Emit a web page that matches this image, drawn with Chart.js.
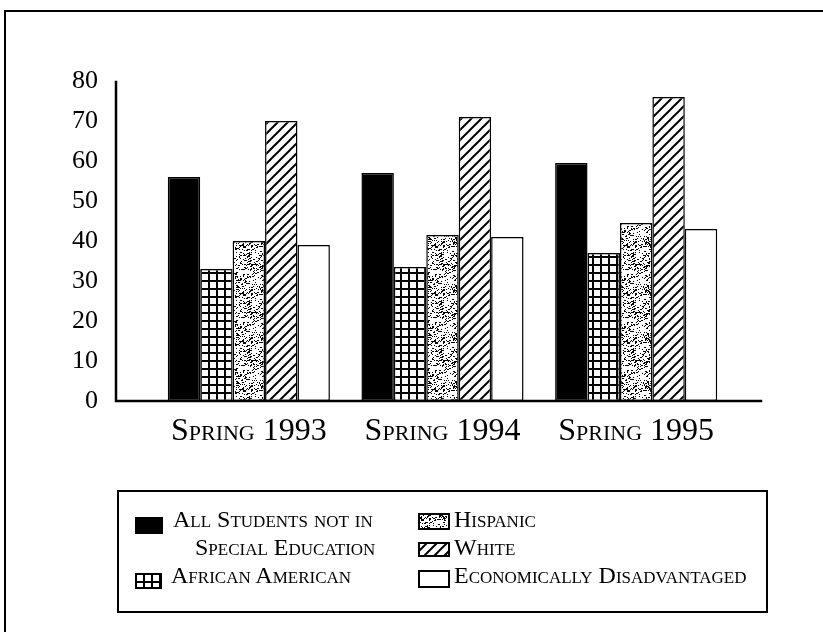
<!DOCTYPE html>
<html>
<head>
<meta charset="utf-8">
<script src="https://cdn.jsdelivr.net/npm/chart.js@4/dist/chart.umd.min.js"></script>
<style>
html,body{margin:0;padding:0;background:#fff;}
#wrap{position:relative;width:823px;height:632px;overflow:hidden;background:#fff;}
#c{position:absolute;left:0;top:0;}
#frame{position:absolute;left:4px;top:10px;width:840px;height:660px;border-top:2px solid #000;border-left:2px solid #000;}
#legend{position:absolute;left:117px;top:490px;width:647px;height:119px;border:2px solid #000;font-family:'Liberation Serif',serif;font-variant:small-caps;font-size:24px;color:#000;}
.item{position:absolute;white-space:nowrap;line-height:28px;}
.sw{position:absolute;}
</style>
</head>
<body>
<div id="wrap">
  <div id="frame"></div>
  <canvas id="c" width="823" height="632"></canvas>
  <div id="legend"></div>
</div>
<script>
// ---- data ----
const categories = ['Spring 1993', 'Spring 1994', 'Spring 1995'];
const seriesNames = ['All Students not in Special Education', 'African American', 'Hispanic', 'White', 'Economically Disadvantaged'];
const allStudents = [56, 57, 59.5];
const africanAmerican = [33, 33.5, 37];
const hispanic = [40, 41.5, 44.5];
const white = [70, 71, 76];
const econDisadvantaged = [39, 41, 43];
const yTicks = [0, 10, 20, 30, 40, 50, 60, 70, 80];

// ---- textures ----
function makeTile(w, h, draw) {
  const t = document.createElement('canvas');
  t.width = w; t.height = h;
  const g = t.getContext('2d');
  g.fillStyle = '#fff'; g.fillRect(0, 0, w, h);
  draw(g, w, h);
  return t;
}
function hash(x, y) {
  let h = (x * 374761393 + y * 668265263) | 0;
  h = (h ^ (h >>> 13)) * 1274126177 | 0;
  h = h ^ (h >>> 16);
  return (h >>> 0) / 4294967296;
}
const tiles = {
  solid: null,
  grid: makeTile(8, 8, (g) => { g.fillStyle = '#000'; g.fillRect(0, 0, 8, 2); g.fillRect(0, 0, 2, 8); }),
  speckle: makeTile(48, 48, (g, w, h) => {
    g.fillStyle = '#000';
    for (let y = 0; y < h; y++) for (let x = 0; x < w; x++) {
      const v = hash(x, y);
      if (v < 0.16) g.fillRect(x, y, 1, 1);
      else if (v < 0.20) g.fillRect(x, y, 2, 1);
    }
  }),
  hatch: makeTile(10, 10, (g) => {
    g.strokeStyle = '#000'; g.lineWidth = 2;
    g.beginPath();
    g.moveTo(-2, 12); g.lineTo(12, -2);
    g.moveTo(-7, 7); g.lineTo(7, -7);
    g.moveTo(3, 17); g.lineTo(17, 3);
    g.stroke();
  }),
  blank: makeTile(4, 4, () => {})
};
const ctx = document.getElementById('c').getContext('2d');
const fills = [
  '#000',
  ctx.createPattern(tiles.grid, 'repeat'),
  ctx.createPattern(tiles.speckle, 'repeat'),
  ctx.createPattern(tiles.hatch, 'repeat'),
  '#fff'
];
const seriesValues = [allStudents, africanAmerican, hispanic, white, econDisadvantaged];

const axisLines = {
  id: 'axisLines',
  afterDatasetsDraw(chart) {
    const c = chart.ctx, a = chart.chartArea, y = chart.scales.y;
    const base = y.getPixelForValue(0), top = y.getPixelForValue(80);
    c.save();
    c.strokeStyle = '#000'; c.lineWidth = 2.5; c.lineCap = 'square';
    c.beginPath();
    c.moveTo(a.left - 36, top + 1);
    c.lineTo(a.left - 36, base);
    c.lineTo(a.right + 28, base);
    c.stroke();
    c.restore();
  }
};

new Chart(ctx, {
  type: 'bar',
  data: {
    labels: categories,
    datasets: seriesNames.map((n, i) => ({
      label: n,
      data: seriesValues[i],
      backgroundColor: fills[i],
      borderColor: '#000',
      borderWidth: 1.5,
      borderSkipped: false,
      categoryPercentage: 0.837,
      barPercentage: 1.0
    }))
  },
  options: {
    responsive: false,
    animation: false,
    events: [],
    layout: { padding: { left: 0, right: 90, top: 81, bottom: 0 } },
    plugins: { legend: { display: false }, tooltip: { enabled: false } },
    scales: {
      x: {
        grid: { display: false, drawTicks: false },
        border: { display: false },
        ticks: { color: '#000', padding: 11, font: { family: "'Liberation Serif', serif", size: 32, weight: 'small-caps' } },
        afterFit(s) { s.height = 231; }
      },
      y: {
        min: 0, max: 80,
        afterBuildTicks(s) { s.ticks = yTicks.map(v => ({ value: v })); },
        grid: { display: false, drawTicks: false },
        border: { display: false },
        ticks: { color: '#000', padding: 54, font: { family: "'Liberation Serif', serif", size: 26 } },
        afterFit(s) { s.width = 152; }
      }
    }
  },
  plugins: [axisLines]
});

// ---- HTML legend ----
const legend = document.getElementById('legend');
const legendItems = [
  { s: 0, sw: [16, 25, 28, 17], lines: [[54, 13, 'All Students not in'], [76, 41, 'Special Education']] },
  { s: 1, sw: [16, 81, 27, 16], lines: [[52, 69, seriesNames[1]]] },
  { s: 2, sw: [299, 21, 32, 17], lines: [[335, 13, seriesNames[2]]] },
  { s: 3, sw: [299, 50, 32, 15], lines: [[335, 41, seriesNames[3]]] },
  { s: 4, sw: [299, 78, 32, 18], lines: [[335, 69, seriesNames[4]]] }
];
legendItems.forEach(it => {
  const cv = document.createElement('canvas');
  const [x, y, w, h] = it.sw;
  cv.width = w; cv.height = h; cv.className = 'sw';
  cv.style.left = x + 'px'; cv.style.top = y + 'px';
  const g = cv.getContext('2d');
  const f = fills[it.s];
  const tileKeys = [null, 'grid', 'speckle', 'hatch', null];
  g.fillStyle = tileKeys[it.s] ? g.createPattern(tiles[tileKeys[it.s]], 'repeat') : f;
  g.fillRect(0, 0, w, h);
  g.strokeStyle = '#000'; g.lineWidth = 2; g.strokeRect(1, 1, w - 2, h - 2);
  legend.appendChild(cv);
  it.lines.forEach(([lx, ly, t]) => {
    const d = document.createElement('div');
    d.className = 'item';
    d.style.left = lx + 'px'; d.style.top = ly + 'px';
    d.textContent = t;
    legend.appendChild(d);
  });
});
</script>
</body>
</html>
